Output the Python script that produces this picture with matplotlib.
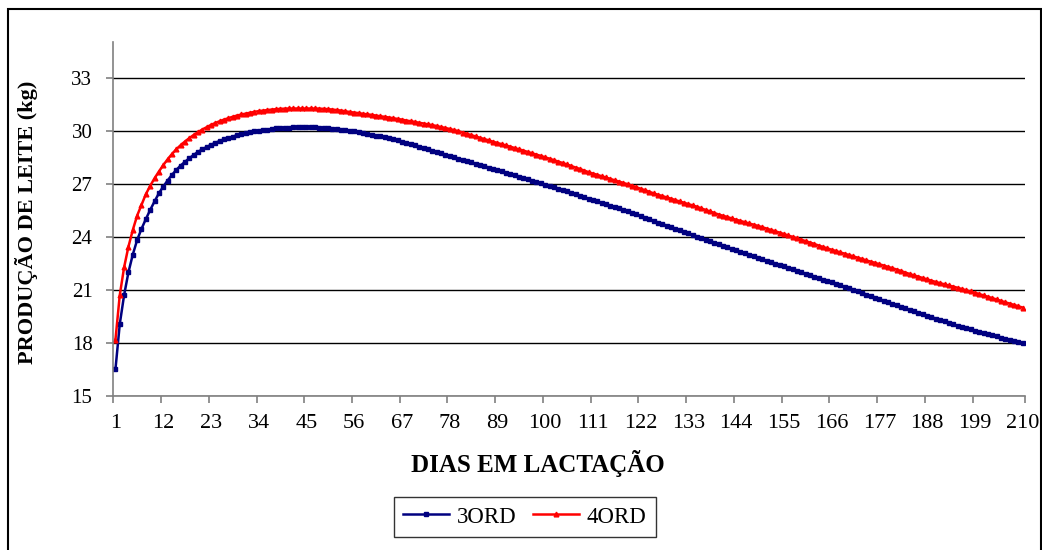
import numpy as np
import matplotlib
matplotlib.use("Agg")
import matplotlib.pyplot as plt
from matplotlib.patches import Rectangle

# ===============================
# DATA
# ===============================
ord3 = [
    16.50, 19.07, 20.71, 22.00, 23.00, 23.82, 24.45, 25.00, 25.52, 26.00,
    26.46, 26.84, 27.18, 27.50, 27.78, 28.03, 28.24, 28.44, 28.63, 28.80,
    28.95, 29.08, 29.20, 29.32, 29.42, 29.51, 29.59, 29.67, 29.74, 29.80,
    29.86, 29.91, 29.96, 30.00, 30.04, 30.07, 30.10, 30.13, 30.15, 30.17,
    30.18, 30.19, 30.20, 30.20, 30.20, 30.20, 30.19, 30.18, 30.16, 30.14,
    30.12, 30.10, 30.07, 30.04, 30.00, 29.96, 29.91, 29.87, 29.82, 29.78,
    29.73, 29.68, 29.62, 29.57, 29.52, 29.45, 29.38, 29.32, 29.25, 29.18,
    29.10, 29.03, 28.95, 28.88, 28.80, 28.73, 28.65, 28.58, 28.50, 28.43,
    28.36, 28.29, 28.21, 28.14, 28.07, 28.00, 27.92, 27.85, 27.77, 27.70,
    27.62, 27.55, 27.47, 27.40, 27.32, 27.25, 27.17, 27.10, 27.02, 26.95,
    26.87, 26.80, 26.72, 26.65, 26.57, 26.49, 26.41, 26.32, 26.24, 26.16,
    26.08, 26.00, 25.93, 25.85, 25.77, 25.69, 25.61, 25.53, 25.45, 25.37,
    25.28, 25.18, 25.09, 24.99, 24.90, 24.81, 24.72, 24.64, 24.55, 24.46,
    24.37, 24.28, 24.20, 24.11, 24.02, 23.93, 23.84, 23.76, 23.67, 23.58,
    23.49, 23.40, 23.32, 23.23, 23.14, 23.06, 22.98, 22.89, 22.81, 22.73,
    22.65, 22.57, 22.49, 22.41, 22.33, 22.25, 22.17, 22.08, 22.00, 21.92,
    21.84, 21.75, 21.67, 21.58, 21.50, 21.42, 21.33, 21.25, 21.16, 21.08,
    21.00, 20.91, 20.83, 20.74, 20.66, 20.57, 20.48, 20.38, 20.29, 20.20,
    20.12, 20.03, 19.95, 19.86, 19.78, 19.70, 19.62, 19.54, 19.46, 19.38,
    19.30, 19.22, 19.13, 19.05, 18.97, 18.90, 18.83, 18.77, 18.70, 18.63,
    18.56, 18.50, 18.43, 18.37, 18.30, 18.24, 18.17, 18.11, 18.04, 17.98,
]

ord4 = [
    18.17, 20.71, 22.28, 23.45, 24.39, 25.20, 25.80, 26.41, 26.88, 27.31,
    27.69, 28.05, 28.38, 28.68, 28.95, 29.18, 29.39, 29.58, 29.76, 29.92,
    30.07, 30.20, 30.33, 30.44, 30.54, 30.63, 30.71, 30.79, 30.86, 30.92,
    30.97, 31.02, 31.07, 31.11, 31.14, 31.17, 31.20, 31.22, 31.24, 31.25,
    31.26, 31.26, 31.26, 31.26, 31.26, 31.26, 31.26, 31.25, 31.24, 31.22,
    31.20, 31.17, 31.14, 31.10, 31.06, 31.03, 31.00, 30.96, 30.93, 30.90,
    30.86, 30.82, 30.79, 30.75, 30.71, 30.67, 30.63, 30.58, 30.54, 30.50,
    30.45, 30.41, 30.36, 30.32, 30.27, 30.21, 30.16, 30.10, 30.04, 29.98,
    29.90, 29.83, 29.75, 29.68, 29.60, 29.53, 29.46, 29.38, 29.31, 29.24,
    29.17, 29.10, 29.02, 28.95, 28.88, 28.80, 28.73, 28.65, 28.58, 28.50,
    28.42, 28.34, 28.26, 28.18, 28.10, 28.01, 27.92, 27.84, 27.75, 27.66,
    27.58, 27.51, 27.43, 27.36, 27.28, 27.20, 27.13, 27.05, 26.98, 26.90,
    26.81, 26.72, 26.64, 26.55, 26.46, 26.38, 26.31, 26.23, 26.16, 26.08,
    26.00, 25.93, 25.85, 25.78, 25.70, 25.61, 25.52, 25.44, 25.35, 25.26,
    25.19, 25.12, 25.04, 24.97, 24.90, 24.83, 24.76, 24.69, 24.62, 24.55,
    24.47, 24.39, 24.32, 24.24, 24.16, 24.08, 24.00, 23.92, 23.84, 23.76,
    23.68, 23.60, 23.51, 23.43, 23.35, 23.27, 23.20, 23.12, 23.05, 22.97,
    22.90, 22.82, 22.75, 22.67, 22.60, 22.53, 22.45, 22.38, 22.30, 22.23,
    22.15, 22.07, 21.98, 21.90, 21.82, 21.75, 21.67, 21.60, 21.52, 21.45,
    21.38, 21.32, 21.25, 21.19, 21.12, 21.05, 20.98, 20.91, 20.84, 20.77,
    20.69, 20.61, 20.54, 20.46, 20.38, 20.30, 20.23, 20.15, 20.08, 20.00,
]

days = np.arange(1, len(ord3) + 1)
x_labels = [1, 12, 23, 34, 45, 56, 67, 78, 89, 100, 111, 122, 133, 144, 155, 166, 177, 188, 199, 210]
y_ticks = [15, 18, 21, 24, 27, 30, 33]

# ===============================
# FIGURE
# ===============================
plt.rcParams["font.family"] = ["Liberation Serif", "DejaVu Serif"]

fig = plt.figure(figsize=(10.42, 5.5), dpi=100)
ax = fig.add_axes([0.1087, 0.28, 0.8748, 0.643])

ax.plot(days, ord3, color="#000080", lw=1.8, marker="s", ms=2.8,
        mec="#000080", label="3ORD")
ax.plot(days, ord4, color="#FF0000", lw=1.8, marker="^", ms=3.4,
        mec="#FF0000", label="4ORD")

ax.set_xlim(0.5, len(ord3) + 0.5)
ax.set_ylim(15, 35)

ax.set_yticks(y_ticks)
ax.set_yticklabels([str(v) for v in y_ticks], fontsize=15)
ax.yaxis.grid(True, color="black", lw=1.0)
ax.set_axisbelow(True)

# category axis: labels in the middle, tick marks on category edges
ax.set_xticks(x_labels)
ax.set_xticklabels([str(v) for v in x_labels], fontsize=16)
ax.tick_params(axis="x", which="major", length=0, pad=13)
ax.set_xticks([d - 0.5 for d in x_labels[:-1]] + [len(ord3) + 0.5], minor=True)
ax.tick_params(axis="x", which="minor", length=5, color="#808080", width=1.2,
               direction="out")
ax.tick_params(axis="y", length=5, color="#808080", width=1.2, pad=10)

for s in ["top", "right"]:
    ax.spines[s].set_visible(False)
for s in ["left", "bottom"]:
    ax.spines[s].set_color("#808080")
    ax.spines[s].set_linewidth(1.2)

ax.set_xlabel("DIAS EM LACTAÇÃO", fontsize=18, fontweight="bold")
ax.xaxis.set_label_coords(0.466, -0.152)
ax.set_ylabel("PRODUÇÃO DE LEITE (kg)", fontsize=16, fontweight="bold")
ax.yaxis.set_label_coords(-0.083, 0.49)

leg = fig.legend(loc="center", ncol=2, fontsize=16.5, frameon=True,
                 fancybox=False, edgecolor="black", handlelength=2.0,
                 handletextpad=0.35, columnspacing=0.7, borderpad=0.4)
leg.set_bbox_to_anchor((525 / 1042, 1 - 517 / 550), transform=fig.transFigure)
leg.get_frame().set_linewidth(1.0)

# chart area border
fig.patches.append(Rectangle((8 / 1042, -0.02), 1033 / 1042, 1.02 - 9 / 550,
                             transform=fig.transFigure, fill=False,
                             edgecolor="black", lw=1.5))

plt.savefig("out.png", dpi=100)
plt.close()
